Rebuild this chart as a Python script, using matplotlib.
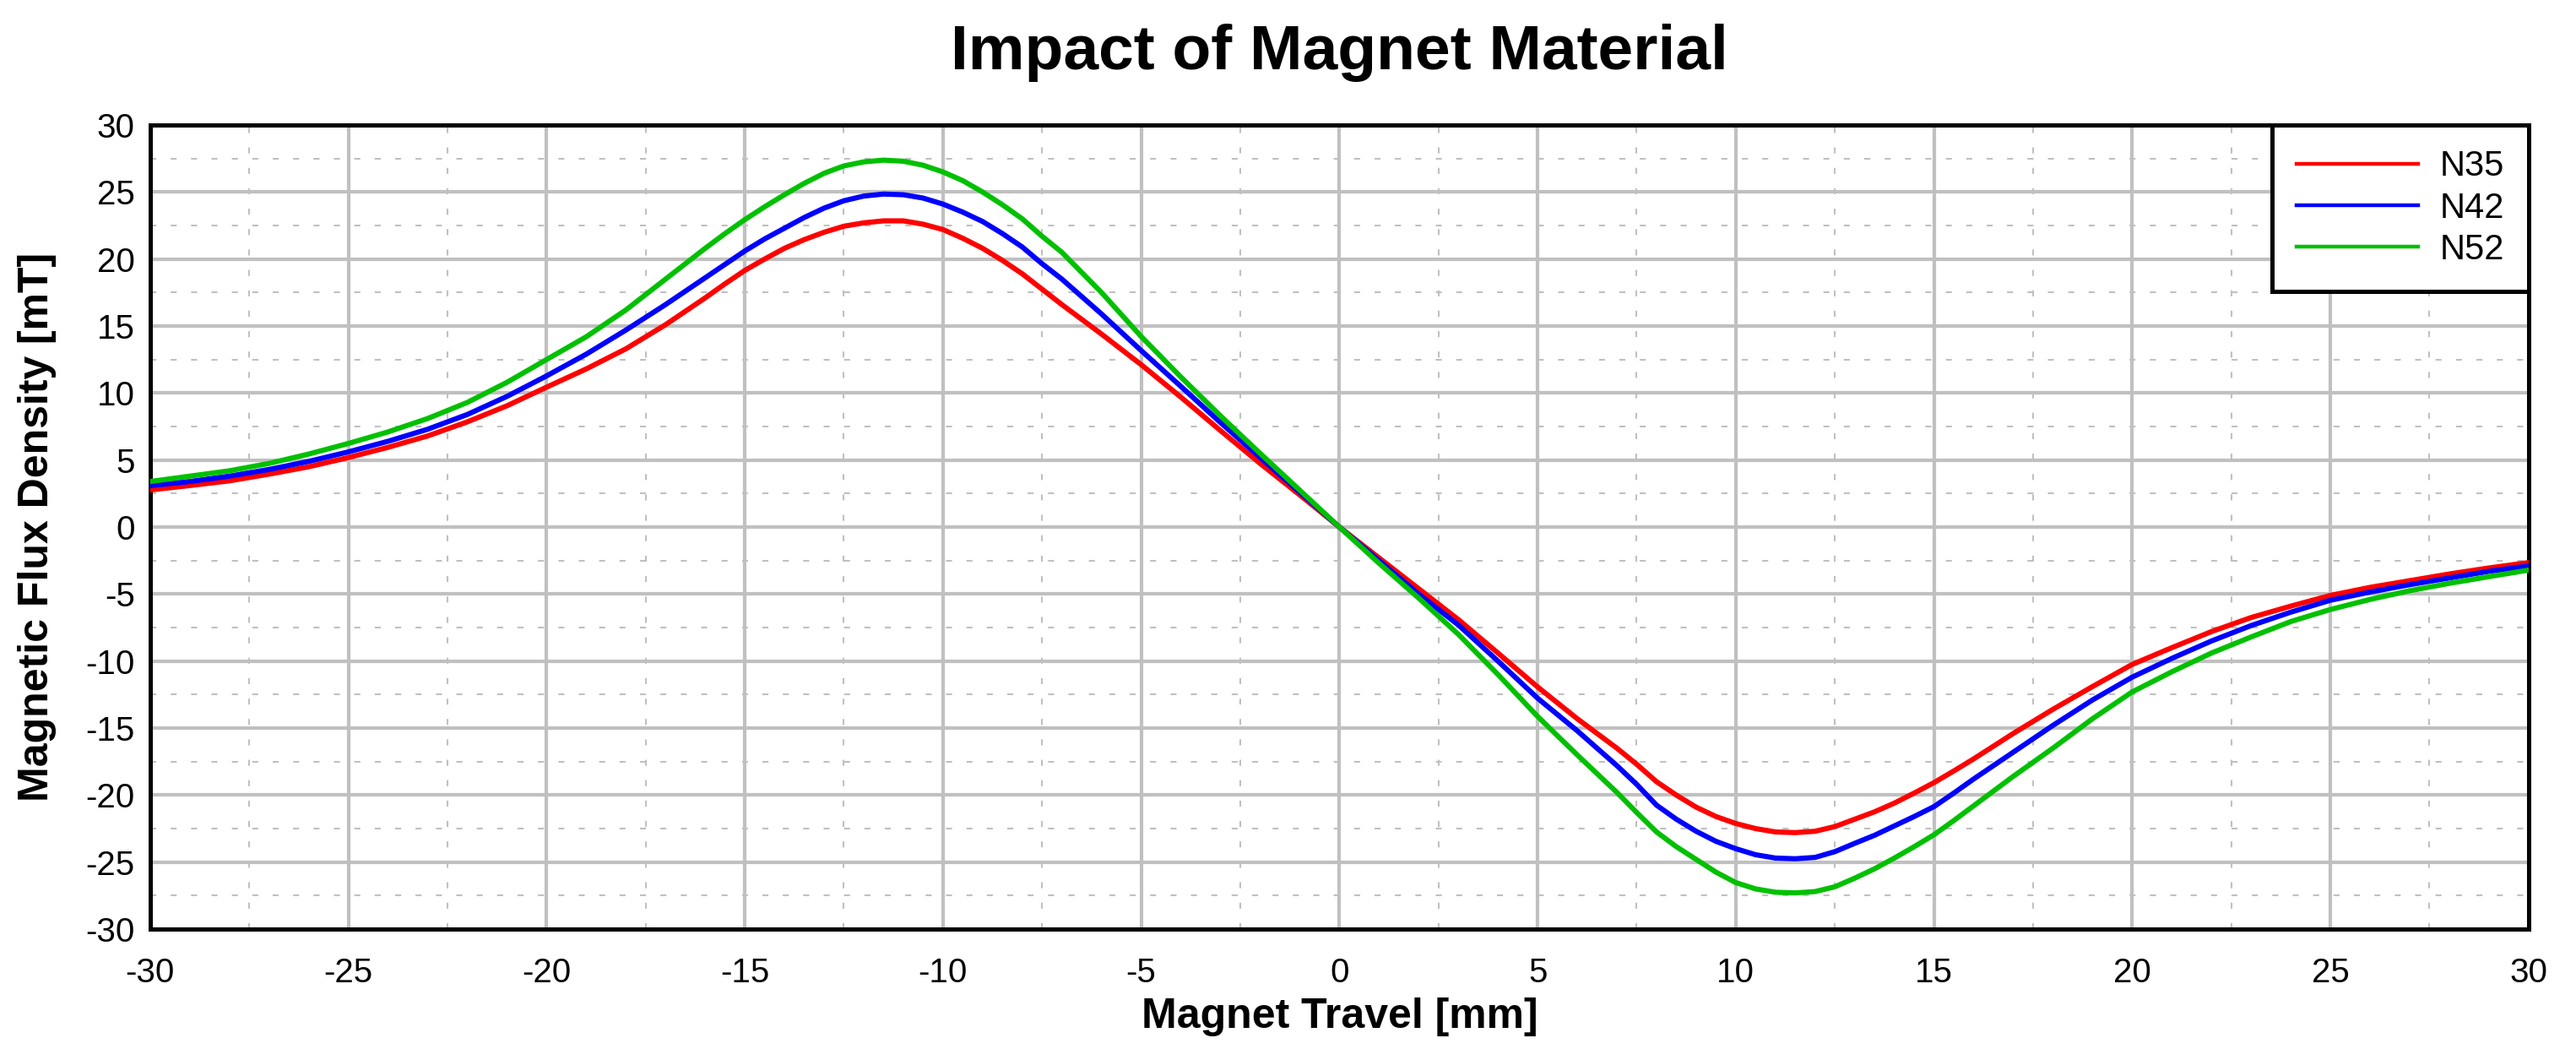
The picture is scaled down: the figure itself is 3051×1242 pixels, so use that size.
import matplotlib
matplotlib.use("Agg")
import matplotlib.pyplot as plt
from matplotlib.ticker import MultipleLocator

plt.rcParams['font.family'] = ['Liberation Sans', 'DejaVu Sans']
plt.rcParams['axes.unicode_minus'] = False

# ---- data ----
travel_mm = [-30, -29, -28, -27, -26, -25, -24, -23, -22, -21, -20, -19, -18, -17,
             -16, -15.5, -15, -14.5, -14, -13.5, -13, -12.5, -12, -11.5, -11,
             -10.5, -10, -9.5, -9, -8.5, -8, -7.5, -7, -6.5, -6,
             -5, -4, -3, -2, -1, 0, 1, 2, 3, 4, 5,
             6, 6.5, 7, 7.5, 8, 8.5, 9, 9.5, 10, 10.5, 11, 11.5, 12, 12.5,
             13, 13.5, 14, 14.5, 15, 15.5, 16,
             17, 18, 19, 20, 21, 22, 23, 24, 25, 26, 27, 28, 29, 30]

n35 = [2.77, 3.1, 3.45, 3.95, 4.5, 5.19, 5.95, 6.8, 7.85, 9.05, 10.44, 11.8, 13.3, 15.1,
       17.1, 18.15, 19.15, 20.0, 20.8, 21.45, 22.0, 22.45, 22.7, 22.85, 22.85,
       22.6, 22.2, 21.55, 20.8, 19.9, 18.9, 17.75, 16.6, 15.5, 14.4,
       12.12, 9.7, 7.2, 4.75, 2.4, 0.0, -2.3, -4.6, -6.9, -9.4, -11.93,
       -14.3, -15.4, -16.5, -17.7, -19.0, -20.0, -20.9, -21.6, -22.12, -22.5,
       -22.75, -22.8, -22.7, -22.35, -21.8, -21.25, -20.6, -19.85, -19.07, -18.2, -17.3,
       -15.4, -13.6, -11.9, -10.25, -9.0, -7.8, -6.75, -5.9, -5.1, -4.5, -4.0, -3.5, -3.05, -2.65]

n42 = [3.09, 3.4, 3.8, 4.3, 4.9, 5.61, 6.4, 7.3, 8.4, 9.75, 11.28, 12.9, 14.7, 16.6,
       18.6, 19.6, 20.6, 21.5, 22.3, 23.1, 23.8, 24.35, 24.7, 24.85, 24.8,
       24.55, 24.1, 23.5, 22.8, 21.9, 20.9, 19.65, 18.5, 17.2, 15.9,
       13.17, 10.5, 7.8, 5.2, 2.6, 0.0, -2.5, -5.0, -7.3, -10.0, -12.77,
       -15.2, -16.5, -17.8, -19.2, -20.75, -21.8, -22.7, -23.45, -24.0, -24.45,
       -24.7, -24.75, -24.65, -24.22, -23.6, -23.0, -22.3, -21.6, -20.86, -19.85, -18.8,
       -16.8, -14.8, -12.9, -11.2, -9.8, -8.5, -7.35, -6.35, -5.46, -4.85, -4.3, -3.8, -3.3, -2.9]

n52 = [3.40, 3.8, 4.2, 4.75, 5.45, 6.24, 7.1, 8.1, 9.3, 10.8, 12.5, 14.2, 16.2, 18.5,
       20.8, 21.9, 22.94, 23.9, 24.8, 25.65, 26.4, 26.95, 27.25, 27.38, 27.3,
       27.0, 26.5, 25.85, 25.0, 24.05, 23.0, 21.7, 20.5, 19.0, 17.5,
       14.22, 11.2, 8.3, 5.5, 2.75, 0.0, -2.7, -5.3, -8.0, -11.0, -14.13,
       -17.0, -18.4, -19.8, -21.3, -22.75, -23.85, -24.8, -25.75, -26.53, -27.0,
       -27.25, -27.3, -27.2, -26.84, -26.2, -25.5, -24.7, -23.85, -22.96, -21.9, -20.8,
       -18.6, -16.5, -14.3, -12.3, -10.8, -9.4, -8.2, -7.05, -6.15, -5.4, -4.75, -4.2, -3.7, -3.21]

series_names = ["N35", "N42", "N52"]
series_colors = ["#ff0000", "#0000ff", "#00c000"]

x_ticks = list(range(-30, 31, 5))
y_ticks = list(range(-30, 31, 5))

# ---- figure ----
fig = plt.figure(figsize=(30.51, 12.42), dpi=100)
ax = fig.add_axes([0.0583, 0.1143, 0.9233, 0.7665])

for vals, name, col in zip([n35, n42, n52], series_names, series_colors):
    ax.plot(travel_mm, vals, color=col, lw=4.4, label=name, zorder=3,
            solid_joinstyle='round')

ax.set_xlim(-30, 30)
ax.set_ylim(-30, 30)
ax.set_xticks(x_ticks)
ax.set_yticks(y_ticks)
ax.xaxis.set_minor_locator(MultipleLocator(2.5))
ax.yaxis.set_minor_locator(MultipleLocator(2.5))

ax.set_axisbelow(True)
ax.grid(which='major', color='#c0c0c0', lw=3.0, ls='-')
ax.grid(which='minor', color='#c0c0c0', lw=1.5, ls=(0, (3.4, 8.2)))

ax.tick_params(which='both', length=0)
ax.tick_params(axis='y', labelsize=29, pad=13)
ax.tick_params(axis='x', labelsize=29, pad=24)

for sp in ax.spines.values():
    sp.set_linewidth(3.6)
    sp.set_color('black')

ax.set_xlabel("Magnet Travel [mm]", fontsize=36, fontweight='bold')
ax.set_ylabel("Magnetic Flux Density [mT]", fontsize=36, fontweight='bold')
ax.xaxis.set_label_coords(0.5, -0.085)
ax.yaxis.set_label_coords(-0.0394, 0.5)

fig.text(0.5198, 0.950, "Impact of Magnet Material", fontsize=54,
         fontweight='bold', ha='center', va='center')

leg = ax.legend(loc='upper right', bbox_to_anchor=(1, 1), borderaxespad=0,
                fontsize=30, handlelength=3.45, handletextpad=0.6,
                labelspacing=0.225, borderpad=0.70, fancybox=False,
                framealpha=1, edgecolor='black')
leg.get_frame().set_linewidth(3.6)
for line in leg.get_lines():
    line.set_linewidth(3.2)

fig.savefig("out.png", dpi=100)
